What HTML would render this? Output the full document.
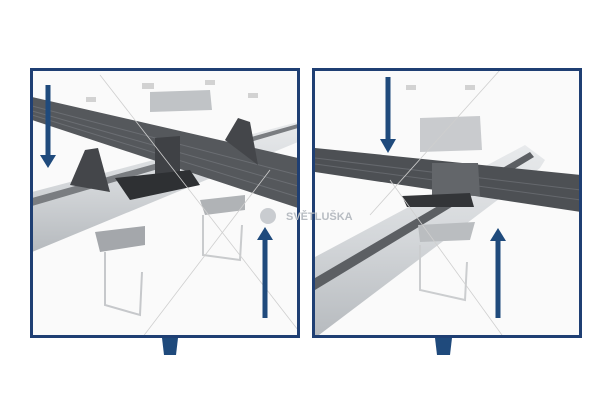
<!DOCTYPE html>
<html><head><style>html,body{margin:0;padding:0;background:#fff}svg{display:block}</style></head>
<body>
<svg width="600" height="405" viewBox="0 0 600 405" xmlns="http://www.w3.org/2000/svg">
<defs>
<linearGradient id="rail" x1="0" y1="0" x2="0" y2="1"><stop offset="0" stop-color="#e8eaec"/><stop offset="0.5" stop-color="#d3d6d9"/><stop offset="1" stop-color="#b6babe"/></linearGradient>
<clipPath id="cl"><rect x="32" y="70" width="266" height="266"/></clipPath>
<clipPath id="cr"><rect x="315" y="70" width="266" height="266"/></clipPath>
</defs>
<rect width="600" height="405" fill="#fff"/>
<g clip-path="url(#cl)">
 <rect x="32" y="70" width="266" height="266" fill="#fafafa"/>
 <polygon points="32,192 298,122 298,142 32,252" fill="url(#rail)"/>
 <polygon points="32,198 298,124 298,128 32,206" fill="#7a7d81"/>
 <polygon points="95,232 145,226 145,245 100,252" fill="#a4a7ab"/>
 <polyline points="105,252 105,305 140,315 142,272" fill="none" stroke="#c6c8cb" stroke-width="2"/>
 <polygon points="200,200 245,195 245,210 205,215" fill="#b0b3b6"/>
 <polyline points="203,215 203,255 240,260 242,225" fill="none" stroke="#c9cbcd" stroke-width="2"/>
 <polygon points="32,97 298,158 298,208 32,120" fill="#55585c"/>
 <g stroke="#6b6e73" stroke-width="1"><line x1="32" y1="106" x2="298" y2="175"/><line x1="32" y1="111" x2="298" y2="186"/><line x1="32" y1="115" x2="298" y2="197"/></g>
 <polygon points="155,138 180,136 180,178 155,180" fill="#3f4145"/>
 <polygon points="115,178 190,170 200,185 130,200" fill="#2e3033"/>
 <polygon points="70,185 85,150 98,148 110,192" fill="#44464a"/>
 <polygon points="225,140 238,118 250,122 258,165" fill="#44464a"/>
 <polygon points="150,92 210,90 212,110 150,112" fill="#c0c3c6"/>
 <rect x="142" y="83" width="12" height="6" fill="#d2d2d2"/><rect x="205" y="80" width="10" height="5" fill="#d2d2d2"/>
 <rect x="86" y="97" width="10" height="5" fill="#d2d2d2"/><rect x="248" y="93" width="10" height="5" fill="#d2d2d2"/>
 <g stroke="#cfcfcf" stroke-width="0.8"><line x1="100" y1="75" x2="298" y2="330"/><line x1="110" y1="380" x2="270" y2="170"/></g>
 <rect x="45.5" y="85" width="5" height="72" fill="#1f4a7c"/><polygon points="40,155 56,155 48,168" fill="#1f4a7c"/>
 <rect x="262.5" y="238" width="5" height="80" fill="#1f4a7c"/><polygon points="257,240 273,240 265,227" fill="#1f4a7c"/>
</g>
<rect x="31.5" y="69.5" width="267" height="267" fill="none" stroke="#1f3f73" stroke-width="3"/>
<polygon points="162,338 178,338 176,355 164,355" fill="#1f4a7c"/>
<g clip-path="url(#cr)">
 <rect x="315" y="70" width="266" height="266" fill="#fafafa"/>
 <polygon points="315,257 525,145 545,160 540,168 315,338" fill="url(#rail)"/>
 <polygon points="315,278 530,152 534,157 315,290" fill="#5c5f63"/>
 <polygon points="315,148 581,175 581,212 315,172" fill="#4d5054"/>
 <g stroke="#65686d" stroke-width="1"><line x1="315" y1="158" x2="581" y2="190"/><line x1="315" y1="164" x2="581" y2="200"/></g>
 <polygon points="432,163 478,163 480,196 432,195" fill="#63666a"/>
 <polygon points="402,196 470,193 474,207 407,207" fill="#333538"/>
 <polygon points="420,118 480,116 482,150 420,152" fill="#c9cbce"/>
 <polygon points="418,225 475,222 470,240 420,242" fill="#babdc0"/>
 <polyline points="420,245 420,290 465,300 467,262" fill="none" stroke="#cbcdcf" stroke-width="2"/>
 <rect x="406" y="85" width="10" height="5" fill="#d2d2d2"/><rect x="465" y="85" width="10" height="5" fill="#d2d2d2"/>
 <g stroke="#cfcfcf" stroke-width="0.8"><line x1="370" y1="215" x2="500" y2="70"/><line x1="390" y1="180" x2="520" y2="360"/></g>
 <rect x="385.5" y="77" width="5" height="64" fill="#1f4a7c"/><polygon points="380,139 396,139 388,153" fill="#1f4a7c"/>
 <rect x="495.5" y="240" width="5" height="78" fill="#1f4a7c"/><polygon points="490,241 506,241 498,228" fill="#1f4a7c"/>
</g>
<rect x="313.5" y="69.5" width="267" height="267" fill="none" stroke="#1f3f73" stroke-width="3"/>
<polygon points="435,338 452,338 450,355 437,355" fill="#1f4a7c"/>
<circle cx="268" cy="216" r="8" fill="#c9ccd0"/>
<text x="286" y="220" font-family="Liberation Sans, sans-serif" font-size="11" font-weight="bold" fill="#b7bcc2">SVĚTLUŠKA</text>
</svg>
</body></html>
